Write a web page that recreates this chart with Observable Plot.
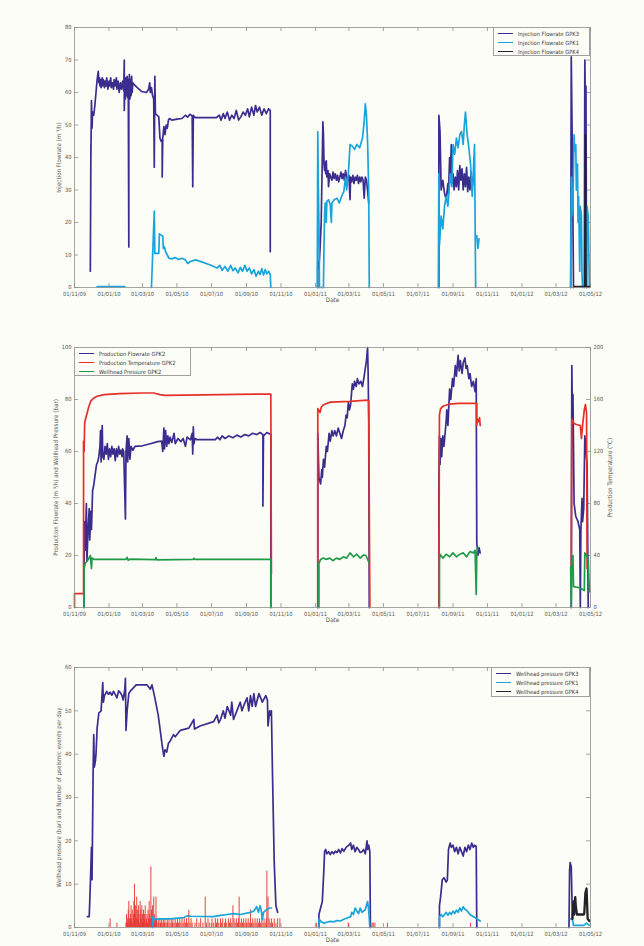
<!DOCTYPE html>
<html><head><meta charset="utf-8">
<script src="https://cdn.jsdelivr.net/npm/d3@7"></script>
<script src="https://cdn.jsdelivr.net/npm/@observablehq/plot@0.6"></script>
<style>
html,body{margin:0;padding:0;background:#fdfdf7;}
#wrap{position:relative;width:644px;height:946px;overflow:hidden;font-family:"DejaVu Sans Condensed","Liberation Sans Narrow",sans-serif;}
.panel{position:absolute;left:0;}
.panel svg{display:block;}
.legend{position:absolute;box-sizing:border-box;border:1px solid #a0a0a0;background:#fdfdf7;font-size:5.7px;color:#3a3a3a;padding-top:1px;}
.legend .row{height:9px;display:flex;align-items:center;white-space:nowrap;}
.legend .sw{display:inline-block;width:15px;height:0;border-top:1.7px solid;margin-left:4px;margin-right:5px;}
</style></head>
<body><div id="wrap"></div>
<script>
const FONT='"DejaVu Sans Condensed","Liberation Sans Narrow",sans-serif';
const C={gpk3:"#3b2d8e",gpk1:"#1aa4dc",gpk4:"#222228",red:"#e5302a",green:"#1f9a48",frame:"#8e8e8e",text:"#555"};

// x axis ticks (dd/mm/yy)
const xTicks=["2009-11-01","2010-01-01","2010-03-01","2010-05-01","2010-07-01","2010-09-01","2010-11-01","2011-01-01","2011-03-01","2011-05-01","2011-07-01","2011-09-01","2011-11-01","2012-01-01","2012-03-01","2012-05-01"];
const xDomain=["2009-11-01","2012-05-01"];
const yTicks1=[0,10,20,30,40,50,60,70,80];
const yTicks2=[0,20,40,60,80,100];
const yTicks3=[0,10,20,30,40,50,60];

// ---------- Panel 1: injection flowrate (m3/h) ----------
const injGPK3=[
["2009-11-29",5],["2009-11-30",44],["2009-11-30",41],["2009-12-01",57.5],["2009-12-02",49],["2009-12-03",54],["2009-12-05",53],["2009-12-07",56],["2009-12-09",60],["2009-12-11",64],["2009-12-13",66.5],["2009-12-14",63],["2009-12-15",64.5],["2009-12-16",62],["2009-12-17",64],["2009-12-18",61.5],["2009-12-20",64.5],["2009-12-21",62],["2009-12-22",64],["2009-12-24",61.5],["2009-12-25",63.5],["2009-12-27",62],["2009-12-28",64.5],["2009-12-30",61],["2010-01-01",63.5],["2010-01-02",62],["2010-01-04",64.5],["2010-01-05",61.5],["2010-01-07",63],["2010-01-09",61],["2010-01-10",64],["2010-01-12",62],["2010-01-14",64.5],["2010-01-15",61],["2010-01-17",63.5],["2010-01-19",60],["2010-01-21",63],["2010-01-23",61],["2010-01-25",63.5],["2010-01-27",60.5],["2010-01-28",70],["2010-01-28",54.5],["2010-01-29",62],["2010-01-30",58],["2010-01-31",64.5],["2010-02-01",59],["2010-02-02",65],["2010-02-03",58.5],["2010-02-04",64],["2010-02-05",12.5],["2010-02-05",61],["2010-02-06",65.5],["2010-02-07",58],["2010-02-08",64],["2010-02-09",59],["2010-02-10",65],["2010-02-11",60],["2010-02-12",63],["2010-02-14",62.5],["2010-02-20",61.5],["2010-02-28",60.3],["2010-03-08",60],["2010-03-12",61],["2010-03-14",63],["2010-03-15",60],["2010-03-17",61.5],["2010-03-19",59],["2010-03-21",58],["2010-03-22",37],["2010-03-23",65],["2010-03-24",53.5],["2010-03-27",53],["2010-03-30",52.5],["2010-04-01",46],["2010-04-03",45],["2010-04-05",45.5],["2010-04-05",34],["2010-04-06",46],["2010-04-08",49.5],["2010-04-10",47],["2010-04-12",50],["2010-04-14",49],["2010-04-16",51.5],["2010-04-18",52],["2010-04-22",51.5],["2010-05-01",51.8],["2010-05-10",52],["2010-05-16",53],["2010-05-20",52.4],["2010-05-24",53.3],["2010-05-28",52.8],["2010-05-29",31],["2010-05-30",53],["2010-06-02",52.3],["2010-07-10",52.3],["2010-07-15",53],["2010-07-18",51.5],["2010-07-22",53.5],["2010-07-25",52],["2010-07-29",54],["2010-08-02",51.5],["2010-08-06",53],["2010-08-10",52],["2010-08-14",54.5],["2010-08-18",51.5],["2010-08-22",52.5],["2010-08-26",54],["2010-08-30",53],["2010-09-03",55],["2010-09-06",52.5],["2010-09-10",55.5],["2010-09-14",53],["2010-09-17",56],["2010-09-20",54],["2010-09-24",55.5],["2010-09-28",53],["2010-10-02",55],["2010-10-06",53.5],["2010-10-10",55],["2010-10-13",54.5],["2010-10-13",11],["2010-10-20",null],
["2011-01-05",0],["2011-01-05",8],["2011-01-07",6],["2011-01-09",12],["2011-01-11",20],["2011-01-13",40],["2011-01-14",51],["2011-01-15",47],["2011-01-16",38],["2011-01-17",36],["2011-01-18",38.5],["2011-01-19",35],["2011-01-20",39],["2011-01-21",34],["2011-01-23",36],["2011-01-24",31],["2011-01-26",35],["2011-01-28",34],["2011-01-30",33],["2011-02-01",35.5],["2011-02-03",33.5],["2011-02-05",35],["2011-02-07",33],["2011-02-09",34.5],["2011-02-11",32.5],["2011-02-13",34],["2011-02-15",35.5],["2011-02-17",33.5],["2011-02-19",35],["2011-02-21",33],["2011-02-23",36],["2011-02-25",34],["2011-02-27",33],["2011-03-01",34.5],["2011-03-03",27],["2011-03-04",34],["2011-03-06",32.5],["2011-03-08",34.5],["2011-03-10",32],["2011-03-12",34],["2011-03-14",33],["2011-03-16",34.5],["2011-03-18",32],["2011-03-20",34],["2011-03-22",32.5],["2011-03-24",34],["2011-03-26",33],["2011-03-28",27.5],["2011-03-30",34],["2011-04-01",33],["2011-04-03",30],["2011-04-05",26],["2011-04-10",null],
["2011-08-07",0],["2011-08-07",53],["2011-08-09",48],["2011-08-11",30],["2011-08-14",33],["2011-08-17",29],["2011-08-20",27],["2011-08-23",32],["2011-08-24",29],["2011-08-26",40],["2011-08-27",33],["2011-08-29",44],["2011-08-30",32],["2011-09-01",35],["2011-09-03",30],["2011-09-05",34],["2011-09-07",31],["2011-09-09",36],["2011-09-11",30],["2011-09-13",37.5],["2011-09-15",33],["2011-09-17",36.5],["2011-09-19",30],["2011-09-21",35],["2011-09-23",31],["2011-09-25",37],["2011-09-27",29.5],["2011-09-29",34],["2011-10-01",30],["2011-10-03",35.5],["2011-10-05",31],["2011-10-07",34],["2011-10-12",null],
["2012-03-27",0],["2012-03-28",71],["2012-03-30",40],["2012-04-01",0],["2012-04-05",null],["2012-04-20",0],["2012-04-21",70],["2012-04-22",55],["2012-04-23",62],["2012-04-24",0]];

const injGPK1=[
["2009-12-11",0.3],["2010-01-29",0.3],["2010-02-10",null],
["2010-03-17",0],["2010-03-22",23.5],["2010-03-23",10.5],["2010-03-30",10.5],["2010-03-31",16.5],["2010-04-06",15.8],["2010-04-07",12],["2010-04-09",12.5],["2010-04-11",11],["2010-04-14",10],["2010-04-17",9],["2010-04-22",8.8],["2010-04-28",9.2],["2010-05-04",8.6],["2010-05-10",9],["2010-05-16",8.5],["2010-05-20",7.4],["2010-05-25",8],["2010-06-03",8.5],["2010-06-15",7.8],["2010-06-28",7],["2010-07-11",6],["2010-07-16",6.8],["2010-07-20",5.3],["2010-07-25",6.5],["2010-07-30",5],["2010-08-04",6.8],["2010-08-08",5.2],["2010-08-12",6],["2010-08-17",4.5],["2010-08-21",6.2],["2010-08-25",5],["2010-08-29",6.8],["2010-09-02",5],["2010-09-06",6],["2010-09-10",4.2],["2010-09-14",5.5],["2010-09-18",3.5],["2010-09-22",5],["2010-09-25",4],["2010-09-28",5.8],["2010-10-01",3.8],["2010-10-04",5.5],["2010-10-07",4.2],["2010-10-10",5],["2010-10-13",4],["2010-10-14",0],["2010-10-20",null],
["2011-01-04",0],["2011-01-05",48],["2011-01-06",31],["2011-01-07",20],["2011-01-08",0],["2011-01-15",0],["2011-01-16",13],["2011-01-17",22],["2011-01-18",26],["2011-01-20",20],["2011-01-21",26.5],["2011-01-24",27],["2011-01-27",25.5],["2011-01-29",20],["2011-01-30",26],["2011-02-03",27],["2011-02-08",27.5],["2011-02-12",26],["2011-02-16",28],["2011-02-20",29.5],["2011-02-23",34],["2011-02-25",30],["2011-02-28",35],["2011-03-03",44],["2011-03-07",43.5],["2011-03-11",42.5],["2011-03-15",44],["2011-03-20",43],["2011-03-25",46],["2011-03-28",51],["2011-03-30",56.5],["2011-04-01",53],["2011-04-03",45],["2011-04-05",30],["2011-04-06",0],["2011-04-10",null],
["2011-08-06",0],["2011-08-07",35],["2011-08-08",13],["2011-08-11",22],["2011-08-14",18],["2011-08-17",25],["2011-08-20",28],["2011-08-23",25],["2011-08-27",35],["2011-08-30",31],["2011-09-01",44],["2011-09-04",41],["2011-09-07",46],["2011-09-10",43],["2011-09-13",47],["2011-09-16",48],["2011-09-19",44],["2011-09-21",50],["2011-09-23",54],["2011-09-26",47],["2011-09-29",43],["2011-10-02",38],["2011-10-05",28],["2011-10-09",44],["2011-10-11",0],["2011-10-12",null],["2011-10-13",16],["2011-10-15",12],["2011-10-17",15],["2011-10-20",null],
["2012-03-27",0],["2012-03-28",34],["2012-03-29",22],["2012-03-31",26],["2012-04-02",47],["2012-04-03",42],["2012-04-05",44],["2012-04-06",30],["2012-04-08",38],["2012-04-09",20],["2012-04-10",28],["2012-04-12",5],["2012-04-13",25],["2012-04-15",22],["2012-04-16",4],["2012-04-17",0],["2012-04-20",null],["2012-04-24",0],["2012-04-25",25],["2012-04-27",22],["2012-04-29",0]];

const injGPK4=[["2012-04-02",0.3],["2012-04-21",0.3],["2012-04-22",47],["2012-04-23",0.3],["2012-04-30",0.3]];

// ---------- Panel 2: production GPK2 ----------
const prodFlow=[
["2009-11-18",0],["2009-11-18",17],["2009-11-19",33],["2009-11-20",22],["2009-11-22",40],["2009-11-23",18],["2009-11-25",30],["2009-11-27",38],["2009-11-28",26],["2009-11-30",37],["2009-12-01",30],["2009-12-03",45],["2009-12-05",47],["2009-12-08",52],["2009-12-10",55],["2009-12-12",56],["2009-12-14",58],["2009-12-16",62],["2009-12-17",68],["2009-12-18",56],["2009-12-20",70],["2009-12-21",58],["2009-12-23",57],["2009-12-25",62],["2009-12-27",59],["2009-12-29",63],["2009-12-31",57],["2010-01-02",61],["2010-01-04",58],["2010-01-06",62],["2010-01-08",59],["2010-01-10",61],["2010-01-12",56.5],["2010-01-14",61],["2010-01-16",58],["2010-01-18",62],["2010-01-20",59],["2010-01-22",60.5],["2010-01-24",58],["2010-01-25",61],["2010-01-27",60],["2010-01-30",34],["2010-01-31",60],["2010-02-02",66],["2010-02-03",56],["2010-02-05",65],["2010-02-07",57],["2010-02-09",62],["2010-02-12",60.5],["2010-02-16",62],["2010-03-01",62.2],["2010-03-15",63],["2010-03-28",63.8],["2010-04-04",64],["2010-04-06",60],["2010-04-08",69],["2010-04-09",61],["2010-04-11",68],["2010-04-13",62],["2010-04-15",66],["2010-04-17",63],["2010-04-19",65.5],["2010-04-22",63.5],["2010-04-26",67],["2010-04-28",63],["2010-05-03",65],["2010-05-08",63.8],["2010-05-12",65],["2010-05-16",62],["2010-05-19",65.5],["2010-05-25",64.5],["2010-05-28",67],["2010-05-29",59],["2010-05-30",69.5],["2010-05-31",63],["2010-06-02",65],["2010-06-05",64.6],["2010-07-08",64.6],["2010-07-12",65.5],["2010-07-16",64.5],["2010-07-20",66],["2010-07-25",65],["2010-08-01",66],["2010-08-08",65.3],["2010-08-15",66.3],["2010-08-22",65.6],["2010-08-29",66.5],["2010-09-05",66],["2010-09-12",67],["2010-09-19",66.5],["2010-09-25",67.3],["2010-09-30",66.5],["2010-09-30",39],["2010-10-01",66],["2010-10-07",67.3],["2010-10-14",66.5],["2010-10-14",0],["2010-10-20",null],
["2011-01-05",0],["2011-01-05",67],["2011-01-07",50],["2011-01-10",47.5],["2011-01-12",53],["2011-01-13",50],["2011-01-15",57],["2011-01-17",54],["2011-01-20",62],["2011-01-22",60],["2011-01-25",67],["2011-01-27",64],["2011-01-30",68],["2011-02-01",66],["2011-02-04",68],["2011-02-07",66],["2011-02-10",69],["2011-02-13",67],["2011-02-16",65],["2011-02-19",68],["2011-02-22",70],["2011-02-24",74],["2011-02-26",73],["2011-02-28",79],["2011-03-02",76],["2011-03-04",78],["2011-03-07",86],["2011-03-09",84],["2011-03-11",87],["2011-03-14",85],["2011-03-16",88],["2011-03-19",86],["2011-03-22",87],["2011-03-25",85],["2011-03-28",89],["2011-04-01",95],["2011-04-03",100],["2011-04-04",90],["2011-04-05",72],["2011-04-06",0],["2011-04-10",null],
["2011-08-07",0],["2011-08-07",50],["2011-08-08",66],["2011-08-09",55],["2011-08-11",65],["2011-08-12",58],["2011-08-14",66],["2011-08-16",62],["2011-08-20",72],["2011-08-21",76],["2011-08-23",70],["2011-08-26",84],["2011-08-28",80],["2011-08-31",88],["2011-09-02",85],["2011-09-05",93],["2011-09-07",89],["2011-09-10",97],["2011-09-12",91],["2011-09-14",95],["2011-09-17",90],["2011-09-19",94],["2011-09-22",96],["2011-09-24",92],["2011-09-26",93],["2011-09-29",88],["2011-10-01",90],["2011-10-04",85],["2011-10-07",87],["2011-10-10",83],["2011-10-12",88],["2011-10-13",25],["2011-10-15",20],["2011-10-17",23],["2011-10-19",21],["2011-10-25",null],
["2012-03-28",0],["2012-03-29",93],["2012-03-30",75],["2012-03-31",82],["2012-04-02",40],["2012-04-05",35],["2012-04-09",33],["2012-04-12",30],["2012-04-13",0],["2012-04-14",29],["2012-04-16",42],["2012-04-17",33],["2012-04-19",38],["2012-04-21",66],["2012-04-23",60],["2012-04-25",55],["2012-04-27",0]];

const prodTemp=[ // degrees C (right axis)
["2009-11-01",0],["2009-11-01",10.6],["2009-11-17",10.6],["2009-11-17",128],["2009-11-18",120],["2009-11-19",142],["2009-11-20",144],["2009-11-23",149],["2009-11-26",154],["2009-11-30",159],["2009-12-05",161],["2009-12-11",162.5],["2009-12-23",163.8],["2010-01-20",164.5],["2010-03-01",165],["2010-03-21",165],["2010-04-01",163.8],["2010-04-10",163.2],["2010-05-15",163.4],["2010-06-15",163.6],["2010-08-15",164],["2010-10-14",164.2],["2010-10-15",26],["2010-10-20",null],
["2011-01-05",0],["2011-01-05",153],["2011-01-09",150],["2011-01-11",154],["2011-01-15",156],["2011-01-27",158],["2011-03-03",158.5],["2011-04-03",159.5],["2011-04-05",159],["2011-04-07",0],["2011-04-10",null],
["2011-08-07",0],["2011-08-08",148],["2011-08-10",153],["2011-08-15",155],["2011-08-27",156.5],["2011-09-10",157],["2011-10-13",157],["2011-10-13",140],["2011-10-14",145],["2011-10-16",143],["2011-10-18",146],["2011-10-19",140],["2011-10-25",null],
["2012-03-28",20],["2012-03-28",28],["2012-03-29",145],["2012-04-01",142],["2012-04-05",141],["2012-04-13",140],["2012-04-15",130],["2012-04-17",140],["2012-04-20",152],["2012-04-22",156],["2012-04-24",150],["2012-04-25",30],["2012-04-27",32]];

const wellP2=[
["2009-11-18",0],["2009-11-18",15],["2009-11-20",17],["2009-11-24",18],["2009-11-29",20],["2009-12-01",15],["2009-12-02",19],["2009-12-06",18.5],["2010-01-31",18.5],["2010-02-02",19.3],["2010-02-04",18.2],["2010-02-07",18.6],["2010-03-24",18.4],["2010-03-25",19.2],["2010-03-27",18.3],["2010-05-30",18.5],["2010-05-31",18.9],["2010-06-02",18.5],["2010-10-14",18.5],["2010-10-14",0],["2010-10-20",null],
["2011-01-07",0],["2011-01-07",17],["2011-01-10",18.5],["2011-01-15",19],["2011-01-20",18.5],["2011-01-26",19],["2011-02-01",18],["2011-02-07",19],["2011-02-13",18.5],["2011-02-19",19.5],["2011-02-25",19],["2011-03-03",21],["2011-03-09",19.5],["2011-03-15",20.5],["2011-03-21",19],["2011-03-27",20.2],["2011-03-31",20],["2011-04-05",17.5],["2011-04-10",null],
["2011-08-08",0],["2011-08-08",18],["2011-08-09",20.5],["2011-08-14",19],["2011-08-20",20.5],["2011-08-26",19.5],["2011-09-01",21],["2011-09-07",19.5],["2011-09-13",20.5],["2011-09-19",21],["2011-09-25",19.5],["2011-10-01",21.5],["2011-10-07",21],["2011-10-10",22],["2011-10-12",5],["2011-10-13",21],["2011-10-15",23],["2011-10-25",null],
["2012-03-27",15.5],["2012-03-28",0],["2012-03-29",20],["2012-03-31",20],["2012-04-01",8],["2012-04-08",7.8],["2012-04-15",7.2],["2012-04-20",6.5],["2012-04-21",21],["2012-04-24",20],["2012-04-27",18],["2012-04-29",6]];

// ---------- Panel 3: wellhead pressures (bar) + seismic events per day ----------
const whGPK3=[
["2009-11-24",2.5],["2009-11-27",2.5],["2009-11-29",10],["2009-12-01",18.5],["2009-12-02",11],["2009-12-04",37],["2009-12-05",44.5],["2009-12-06",37],["2009-12-08",38.5],["2009-12-09",40],["2009-12-11",46],["2009-12-14",49.5],["2009-12-18",50],["2009-12-21",56.5],["2009-12-22",52],["2009-12-24",53.5],["2009-12-28",54.5],["2009-12-31",53.8],["2010-01-03",54.3],["2010-01-06",53.6],["2010-01-09",54.5],["2010-01-12",53.8],["2010-01-15",53],["2010-01-18",54.6],["2010-01-21",54.2],["2010-01-24",53.5],["2010-01-26",52.5],["2010-01-29",55],["2010-01-30",57.5],["2010-01-31",45.5],["2010-02-02",50],["2010-02-05",54],["2010-02-08",54.6],["2010-02-11",55],["2010-02-18",56],["2010-03-09",56],["2010-03-15",55],["2010-03-18",56],["2010-03-23",53],["2010-03-29",49],["2010-04-01",46],["2010-04-05",42],["2010-04-08",39.5],["2010-04-10",41],["2010-04-13",40.5],["2010-04-16",42.5],["2010-04-19",43],["2010-04-25",44.5],["2010-04-28",44],["2010-05-07",45.5],["2010-05-22",46],["2010-05-31",48],["2010-06-01",45.8],["2010-06-11",46.5],["2010-07-05",47.5],["2010-07-11",49],["2010-07-14",47.2],["2010-07-17",48],["2010-07-22",50],["2010-07-25",48.3],["2010-07-29",51],["2010-08-04",49],["2010-08-06",52],["2010-08-09",48],["2010-08-15",50],["2010-08-21",52],["2010-08-24",50],["2010-08-28",51.5],["2010-09-02",53],["2010-09-05",50],["2010-09-08",53.5],["2010-09-11",51],["2010-09-14",54],["2010-09-17",51],["2010-09-23",54],["2010-09-29",52],["2010-10-05",53.5],["2010-10-08",52.5],["2010-10-09",46.5],["2010-10-12",50],["2010-10-13",49],["2010-10-15",50],["2010-10-17",35],["2010-10-20",15],["2010-10-23",5],["2010-10-26",3.5],["2010-11-05",null],
["2011-01-07",0],["2011-01-07",3],["2011-01-11",5],["2011-01-13",6],["2011-01-16",14],["2011-01-17",17.5],["2011-01-19",18],["2011-01-21",17],["2011-01-24",17.5],["2011-01-27",16.8],["2011-01-30",17.5],["2011-02-02",17],["2011-02-05",17.6],["2011-02-08",17.3],["2011-02-11",18],["2011-02-14",17.2],["2011-02-17",18.2],["2011-02-20",17.6],["2011-02-24",18.5],["2011-03-01",19],["2011-03-04",19.5],["2011-03-06",18],["2011-03-09",19],["2011-03-12",17.5],["2011-03-15",18.5],["2011-03-18",18],["2011-03-21",17.3],["2011-03-24",17.5],["2011-03-27",18],["2011-03-30",17],["2011-04-02",20],["2011-04-03",18],["2011-04-05",19],["2011-04-07",17.5],["2011-04-08",0],["2011-04-15",null],
["2011-08-08",0],["2011-08-08",5],["2011-08-10",7],["2011-08-13",11],["2011-08-16",11.5],["2011-08-20",10.5],["2011-08-22",11],["2011-08-24",18],["2011-08-27",19.5],["2011-08-29",18.5],["2011-09-01",19],["2011-09-04",17.5],["2011-09-07",18.5],["2011-09-10",17],["2011-09-13",18.5],["2011-09-16",17.5],["2011-09-19",16.5],["2011-09-22",18.5],["2011-09-25",17.5],["2011-09-28",19],["2011-10-01",18],["2011-10-04",19.5],["2011-10-07",18.5],["2011-10-09",19],["2011-10-12",18.7],["2011-10-13",0],["2011-10-20",null],
["2012-03-24",0],["2012-03-25",13],["2012-03-26",15],["2012-03-28",14],["2012-03-30",2]];

const whGPK1=[
["2010-03-19",0],["2010-03-19",2.5],["2010-03-22",1.8],["2010-04-01",2],["2010-04-19",2],["2010-05-13",2.3],["2010-05-20",2.7],["2010-05-26",2.6],["2010-07-05",2.5],["2010-07-17",2.8],["2010-07-29",3],["2010-08-09",3.2],["2010-08-21",3],["2010-09-08",3.5],["2010-09-14",3.8],["2010-09-19",4.8],["2010-09-22",3.5],["2010-09-25",5],["2010-09-27",4],["2010-09-29",1.8],["2010-10-01",3.5],["2010-10-07",4.2],["2010-10-12",4.5],["2010-10-15",4.5],["2010-10-20",null],
["2011-01-07",0],["2011-01-07",2],["2011-01-11",1.3],["2011-01-16",1],["2011-01-21",1.2],["2011-01-27",1.4],["2011-02-02",1.3],["2011-02-08",1.6],["2011-02-14",1.5],["2011-02-20",1.9],["2011-02-26",2.2],["2011-03-04",2.5],["2011-03-06",3.5],["2011-03-09",3],["2011-03-12",4.5],["2011-03-15",3.8],["2011-03-18",3.2],["2011-03-21",4.5],["2011-03-24",3.5],["2011-03-27",3.8],["2011-03-30",4.2],["2011-04-03",6],["2011-04-05",4],["2011-04-07",0],["2011-04-15",null],
["2011-08-08",0],["2011-08-08",2.5],["2011-08-11",3],["2011-08-14",2.5],["2011-08-20",3.5],["2011-08-23",2.8],["2011-08-26",3.5],["2011-08-29",3],["2011-09-01",3.8],["2011-09-04",3.2],["2011-09-07",4],["2011-09-10",3.5],["2011-09-13",4.5],["2011-09-16",3.8],["2011-09-19",4.8],["2011-09-22",4.2],["2011-09-25",4],["2011-09-28",3.5],["2011-10-01",3],["2011-10-07",2.5],["2011-10-13",2],["2011-10-19",1.5],["2011-10-25",null],
["2012-03-26",2],["2012-03-30",2],["2012-04-01",0.5],["2012-04-19",0.5],["2012-04-24",1],["2012-04-29",0.5]];

const whGPK4=[["2012-03-30",2],["2012-04-01",6],["2012-04-02",3],["2012-04-04",7],["2012-04-05",5],["2012-04-07",3],["2012-04-19",3],["2012-04-20",3.2],["2012-04-22",8],["2012-04-24",9],["2012-04-26",2],["2012-04-29",1.5]];

const seismic=[
["2010-01-03",2],["2010-01-15",1],["2010-01-31",1],["2010-02-01",3],["2010-02-02",1],["2010-02-03",2],["2010-02-04",4],["2010-02-05",6],["2010-02-06",2],["2010-02-07",1],["2010-02-08",3],["2010-02-09",5],["2010-02-10",2],["2010-02-11",4],["2010-02-12",1],["2010-02-13",3],["2010-02-14",6],["2010-02-15",10],["2010-02-16",3],["2010-02-17",5],["2010-02-18",2],["2010-02-19",7],["2010-02-20",4],["2010-02-21",2],["2010-02-22",5],["2010-02-23",3],["2010-02-24",1],["2010-02-25",6],["2010-02-26",4],["2010-02-27",2],["2010-02-28",5],["2010-03-01",3],["2010-03-02",1],["2010-03-03",4],["2010-03-04",2],["2010-03-05",3],["2010-03-06",5],["2010-03-07",1],["2010-03-08",2],["2010-03-09",3],["2010-03-10",1],["2010-03-11",4],["2010-03-12",2],["2010-03-13",6],["2010-03-14",3],["2010-03-15",2],["2010-03-16",14],["2010-03-17",4],["2010-03-18",2],["2010-03-19",5],["2010-03-20",1],["2010-03-21",7],["2010-03-22",3],["2010-03-23",1],["2010-03-24",2],["2010-03-25",7],["2010-03-26",2],["2010-03-27",1],["2010-03-29",2],["2010-03-30",1],["2010-04-01",2],["2010-04-02",1],["2010-04-04",2],["2010-04-06",1],["2010-04-07",2],["2010-04-09",1],["2010-04-10",2],["2010-04-12",1],["2010-04-14",2],["2010-04-15",1],["2010-04-17",2],["2010-04-19",1],["2010-04-21",2],["2010-04-23",1],["2010-04-24",2],["2010-04-26",1],["2010-04-28",2],["2010-04-30",1],["2010-05-02",2],["2010-05-04",1],["2010-05-06",2],["2010-05-08",1],["2010-05-10",2],["2010-05-12",1],["2010-05-14",2],["2010-05-16",1],["2010-05-18",2],["2010-05-20",1],["2010-05-22",4],["2010-05-24",1],["2010-05-26",2],["2010-05-28",1],["2010-06-02",1],["2010-06-05",2],["2010-06-09",1],["2010-06-12",2],["2010-06-16",1],["2010-06-20",7],["2010-06-22",1],["2010-06-25",2],["2010-06-28",1],["2010-07-02",2],["2010-07-05",1],["2010-07-08",2],["2010-07-10",1],["2010-07-12",2],["2010-07-14",1],["2010-07-17",2],["2010-07-19",1],["2010-07-21",2],["2010-07-24",1],["2010-07-26",2],["2010-07-28",1],["2010-07-31",2],["2010-08-02",1],["2010-08-04",2],["2010-08-06",1],["2010-08-08",5],["2010-08-10",2],["2010-08-12",1],["2010-08-14",2],["2010-08-16",1],["2010-08-18",2],["2010-08-19",7],["2010-08-21",1],["2010-08-23",2],["2010-08-25",1],["2010-08-27",2],["2010-08-29",1],["2010-08-31",2],["2010-09-02",1],["2010-09-04",2],["2010-09-06",1],["2010-09-08",4],["2010-09-10",1],["2010-09-12",2],["2010-09-14",1],["2010-09-16",2],["2010-09-18",1],["2010-09-20",2],["2010-09-22",1],["2010-09-24",2],["2010-09-26",1],["2010-09-28",2],["2010-09-30",1],["2010-10-02",2],["2010-10-04",1],["2010-10-06",2],["2010-10-07",13],["2010-10-09",7],["2010-10-11",2],["2010-10-13",1],["2010-10-15",2],["2010-10-17",1],["2010-10-20",2],["2010-10-23",1],["2010-10-26",2],["2010-10-30",2],
["2011-01-03",1],["2011-02-28",1],["2011-04-11",1],["2011-04-13",1],["2011-04-16",1],["2011-05-08",1],["2011-10-02",1]];

// ---------- helpers ----------
const pts=a=>a.map(([d,v])=>({date:new Date(d),v:v==null?NaN:v}));
const wrap=document.getElementById("wrap");
const W=644, ML=74, MR=54;

function panel(o){
  const plotH=o.height-o.marginTop-o.marginBottom, plotW=W-ML-MR;
  const ticks=xTicks.map(d=>new Date(d));
  const svg=Plot.plot({
    width:W,height:o.height,marginLeft:ML,marginRight:MR,marginTop:o.marginTop,marginBottom:o.marginBottom,
    style:{background:"transparent",fontFamily:FONT,fontSize:"5.7px",color:C.text,overflow:"visible"},
    x:{type:"utc",domain:xDomain.map(d=>new Date(d))},
    y:{domain:o.yDomain},
    marks:[
      Plot.ruleX(ticks,{insetTop:plotH-4,stroke:C.frame,strokeWidth:0.8}),
      Plot.ruleX(ticks,{insetBottom:plotH-4,stroke:C.frame,strokeWidth:0.8}),
      Plot.ruleY(o.yTicks,{insetLeft:plotW-4,stroke:C.frame,strokeWidth:0.8}),
      Plot.ruleY(o.yTicks,{insetRight:plotW-4,stroke:C.frame,strokeWidth:0.8}),
      Plot.axisX(ticks,{tickSize:0,tickPadding:4,tickFormat:d3.utcFormat("%d/%m/%y"),label:null,fill:C.text,fontSize:5.7}),
      Plot.axisY(o.yTicks,{tickSize:0,tickPadding:3,label:null,fill:C.text,fontSize:5.7}),
      ...(o.extra||[]),
      Plot.text([o.yLabel],{text:d=>d,frameAnchor:"left",dx:-o.yLabelDx,rotate:-90,textAnchor:"middle",fill:C.text,fontSize:6.2}),
      Plot.text(["Date"],{text:d=>d,frameAnchor:"bottom",dy:14,textAnchor:"middle",fill:C.text,fontSize:6.2}),
      ...o.marks,
      Plot.frame({stroke:C.frame,strokeWidth:0.8})
    ]
  });
  const div=document.createElement("div");
  div.className="panel"; div.style.top=o.top+"px";
  div.appendChild(svg); wrap.appendChild(div);
}
function line(data,color,opts={}){
  return Plot.line(pts(data),{x:"date",y:opts.scale?d=>d.v/opts.scale:"v",stroke:color,strokeWidth:opts.w||1.7,curve:"linear"});
}
function legend(items,o){
  const box=document.createElement("div");
  box.className="legend";
  Object.assign(box.style,{left:o.left+"px",top:o.top+"px",width:o.width+"px",height:o.height+"px"});
  for(const [label,color] of items){
    const r=document.createElement("div"); r.className="row";
    const s=document.createElement("span"); s.className="sw"; s.style.borderTopColor=color;
    const t=document.createElement("span"); t.textContent=label;
    r.appendChild(s); r.appendChild(t); box.appendChild(r);
  }
  wrap.appendChild(box);
}

// Panel 1
panel({top:0,height:320,marginTop:27,marginBottom:33,yDomain:[0,80],yTicks:yTicks1,
  yLabel:"Injection Flowrate (m \u00b3/h)",yLabelDx:15,
  marks:[line(injGPK3,C.gpk3),line(injGPK1,C.gpk1),line(injGPK4,C.gpk4)]});
legend([["Injection Flowrate GPK3",C.gpk3],["Injection Flowrate GPK1",C.gpk1],["Injection Flowrate GPK4",C.gpk4]],
  {left:493,top:27,width:97,height:29});

// Panel 2
panel({top:320,height:320,marginTop:27,marginBottom:33,yDomain:[0,100],yTicks:yTicks2,
  yLabel:"Production Flowrate (m \u00b3/h) and Wellhead Pressure (bar)",yLabelDx:18,
  extra:[
    Plot.axisY(yTicks2,{anchor:"right",tickSize:0,tickPadding:3,label:null,fill:C.text,fontSize:5.7,tickFormat:d=>String(d*2)}),
    Plot.text(["Production Temperature (\u00b0C)"],{text:d=>d,frameAnchor:"right",dx:20,rotate:-90,textAnchor:"middle",fill:C.text,fontSize:6.2})
  ],
  marks:[line(prodFlow,C.gpk3),line(prodTemp,C.red,{scale:2}),line(wellP2,C.green)]});
legend([["Production Flowrate GPK2",C.gpk3],["Production Temperature GPK2",C.red],["Wellhead Pressure GPK2",C.green]],
  {left:74,top:347,width:117,height:29});

// Panel 3
panel({top:640,height:306,marginTop:27,marginBottom:19,yDomain:[0,60],yTicks:yTicks3,
  yLabel:"Wellhead pressure (bar) and Number of \u00b5seismic events per day",yLabelDx:15,
  marks:[
    Plot.ruleX(seismic.map(([d,v])=>({date:new Date(d),v})),{x:"date",y1:0,y2:"v",stroke:C.red,strokeWidth:0.9}),
    line(whGPK3,C.gpk3),line(whGPK1,C.gpk1),line(whGPK4,C.gpk4,{w:2.3})]});
legend([["Wellhead pressure GPK3",C.gpk3],["Wellhead pressure GPK1",C.gpk1],["Wellhead pressure GPK4",C.gpk4]],
  {left:491,top:667,width:99,height:30});
</script></body></html>
